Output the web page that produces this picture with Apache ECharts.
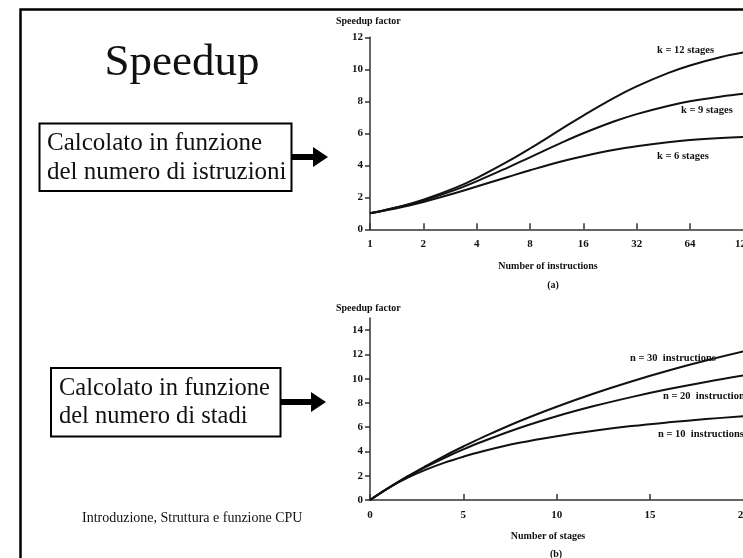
<!DOCTYPE html>
<html>
<head>
<meta charset="utf-8">
<script src="https://cdn.jsdelivr.net/npm/echarts@6/dist/echarts.min.js"></script>
<style>
html,body{margin:0;padding:0;background:#fff;}
#chart{width:743px;height:558px;}
</style>
</head>
<body>
<div id="chart"></div>
<script>
// ---- Data ----
// (a) speedup vs number of instructions, for k stages
const instructions = [1, 1.5, 2, 3, 4, 6, 8, 12, 16, 24, 32, 48, 64, 96, 128];
const k12Stages = [1, 1.44, 1.85, 2.57, 3.2, 4.24, 5.05, 6.26, 7.11, 8.23, 8.93, 9.76, 10.24, 10.77, 11.05];
const k9Stages  = [1, 1.42, 1.8, 2.45, 3.0, 3.86, 4.5, 5.4, 6.0, 6.75, 7.2, 7.71, 8.0, 8.3, 8.47];
const k6Stages  = [1, 1.38, 1.71, 2.25, 2.67, 3.27, 3.69, 4.24, 4.57, 4.97, 5.19, 5.44, 5.58, 5.71, 5.77];
const instrTicks = [1, 2, 4, 8, 16, 32, 64, 128];

// (b) speedup vs number of stages, for n instructions
const stages = [0, 1, 2, 3, 4, 5, 6, 8, 10, 12, 14, 16, 18, 20];
const n30Instr = [0, 1, 1.94, 2.81, 3.64, 4.41, 5.14, 6.49, 7.69, 8.78, 9.77, 10.67, 11.49, 12.24];
const n20Instr = [0, 1, 1.9, 2.73, 3.48, 4.17, 4.8, 5.93, 6.9, 7.74, 8.48, 9.14, 9.73, 10.26];
const n10Instr = [0, 1, 1.82, 2.5, 3.08, 3.57, 4.0, 4.71, 5.26, 5.71, 6.09, 6.4, 6.67, 6.9];
const speedupTicksB = [0, 2, 4, 6, 8, 10, 12, 14];

const pairs = (xs, ys) => xs.map((x, i) => [x, ys[i]]);

const serif = '"Liberation Serif","Times New Roman",serif';
const tickFont = {fontFamily: serif, fontWeight: 'bold', fontSize: 11, color: '#111'};
const axisLineStyle = {color: '#333', width: 1.5};

function txt(text, x, y, size, opts) {
  opts = opts || {};
  return {
    type: 'text', z: 10,
    style: {
      text: text, x: x, y: y,
      fontFamily: serif, fontSize: size, fontWeight: opts.bold ? 'bold' : 'normal',
      fill: '#111',
      align: opts.align || 'left', textAlign: opts.align || 'left',
      verticalAlign: 'middle', textVerticalAlign: 'middle'
    }
  };
}

function arrow(x0, xHead, xTip, yc) {
  return {
    type: 'polygon', z: 10,
    shape: {points: [[x0, yc - 3], [xHead, yc - 3], [xHead, yc - 10], [xTip, yc], [xHead, yc + 10], [xHead, yc + 3], [x0, yc + 3]]},
    style: {fill: '#000'}
  };
}

const lineSeries = (name, data, xi) => ({
  name: name, type: 'line', xAxisIndex: xi, yAxisIndex: xi,
  data: data, smooth: 0.4, symbol: 'none',
  lineStyle: {color: '#111', width: 2}, clip: false, animation: false
});

const chart = echarts.init(document.getElementById('chart'));
chart.setOption({
  animation: false,
  backgroundColor: '#fff',
  grid: [
    {left: 370, top: 37.3, width: 373.3, height: 192, containLabel: false, outerBoundsMode: 'none'},
    {left: 370, top: 318, width: 373.3, height: 182, containLabel: false, outerBoundsMode: 'none'}
  ],
  xAxis: [
    {
      type: 'log', logBase: 2, min: 1, max: 128, gridIndex: 0,
      axisLine: {lineStyle: axisLineStyle},
      axisTick: {inside: true, length: 6, lineStyle: axisLineStyle, customValues: instrTicks},
      axisLabel: Object.assign({margin: 9, customValues: instrTicks}, tickFont),
      splitLine: {show: false}, minorTick: {show: false}
    },
    {
      type: 'value', min: 0, max: 20, interval: 5, gridIndex: 1,
      axisLine: {lineStyle: axisLineStyle},
      axisTick: {inside: true, length: 6, lineStyle: axisLineStyle},
      axisLabel: Object.assign({margin: 10}, tickFont),
      splitLine: {show: false}
    }
  ],
  yAxis: [
    {
      type: 'value', min: 0, max: 12, interval: 2, gridIndex: 0,
      axisLine: {show: true, lineStyle: axisLineStyle},
      axisTick: {show: true, length: 5, lineStyle: axisLineStyle},
      axisLabel: Object.assign({margin: 7}, tickFont),
      splitLine: {show: false}
    },
    {
      type: 'value', min: 0, max: 15, interval: 1, gridIndex: 1,
      axisLine: {show: true, lineStyle: axisLineStyle},
      axisTick: {show: true, length: 5, lineStyle: axisLineStyle, customValues: speedupTicksB},
      axisLabel: Object.assign({margin: 7, customValues: speedupTicksB}, tickFont),
      splitLine: {show: false}
    }
  ],
  series: [
    lineSeries('k = 12 stages', pairs(instructions, k12Stages), 0),
    lineSeries('k = 9 stages', pairs(instructions, k9Stages), 0),
    lineSeries('k = 6 stages', pairs(instructions, k6Stages), 0),
    lineSeries('n = 30 instructions', pairs(stages, n30Instr), 1),
    lineSeries('n = 20 instructions', pairs(stages, n20Instr), 1),
    lineSeries('n = 10 instructions', pairs(stages, n10Instr), 1)
  ],
  graphic: [
    // slide frame
    {type: 'rect', z: 5, shape: {x: 20.5, y: 9.5, width: 800, height: 600}, style: {fill: 'none', stroke: '#000', lineWidth: 2.5}},
    // title
    txt('Speedup', 182, 63, 45, {align: 'center'}),
    // box 1
    {type: 'rect', z: 10, shape: {x: 39.5, y: 123.5, width: 252, height: 67.5}, style: {fill: '#fff', stroke: '#000', lineWidth: 2}},
    txt('Calcolato in funzione', 47, 143.5, 25),
    txt('del numero di istruzioni', 47, 172.5, 25),
    arrow(292, 313, 328, 157),
    // box 2
    {type: 'rect', z: 10, shape: {x: 51, y: 368, width: 229.5, height: 68.5}, style: {fill: '#fff', stroke: '#000', lineWidth: 2}},
    txt('Calcolato in funzione', 59, 389, 24.5),
    txt('del numero di stadi', 59, 417, 24.5),
    arrow(281, 311, 326, 402),
    // footer
    txt('Introduzione, Struttura e funzione CPU', 82, 518, 14),
    // chart (a) texts
    txt('Speedup factor', 336, 21.7, 10, {bold: true}),
    txt('Number of instructions', 548, 266.7, 10, {bold: true, align: 'center'}),
    txt('(a)', 553, 285, 10, {bold: true, align: 'center'}),
    txt('k = 12 stages', 657, 50, 10.5, {bold: true}),
    txt('k = 9 stages', 681, 110.7, 10.5, {bold: true}),
    txt('k = 6 stages', 657, 156.7, 10.5, {bold: true}),
    // chart (b) texts
    txt('Speedup factor', 336, 308.3, 10, {bold: true}),
    txt('Number of stages', 548, 536.7, 10, {bold: true, align: 'center'}),
    txt('(b)', 556, 554, 10, {bold: true, align: 'center'}),
    txt('n = 30  instructions', 630, 358.3, 10.5, {bold: true}),
    txt('n = 20  instructions', 663, 396.7, 10.5, {bold: true}),
    txt('n = 10  instructions', 658, 434, 10.5, {bold: true})
  ]
});
</script>
</body>
</html>
